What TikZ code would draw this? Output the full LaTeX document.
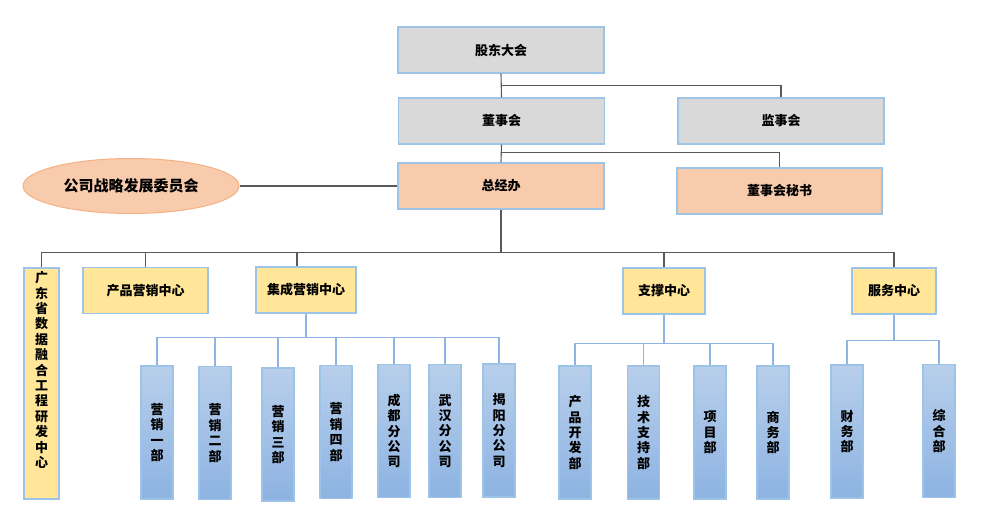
\documentclass[tikz,border=0pt]{standalone}
\usepackage{fontspec}
\usepackage{xcolor}
\usepackage{tikz}
\usetikzlibrary{shapes.geometric}
\newfontfamily\cjk{Noto Sans CJK SC}
\definecolor{grayfill}{HTML}{D9D9D9}
\definecolor{peachfill}{HTML}{F8CBAD}
\definecolor{peachline}{HTML}{F4B183}
\definecolor{yellowfill}{HTML}{FFE699}
\definecolor{boxline}{HTML}{9DC3E6}
\definecolor{bluetop}{HTML}{B8CFEB}
\definecolor{bluebot}{HTML}{8DB3E2}
\definecolor{linkgray}{HTML}{595959}
\definecolor{linkblue}{HTML}{8DB4E2}

\begin{document}
\begin{tikzpicture}[x=1pt,y=-1pt,
  box/.style={draw=boxline,line width=1.3pt,inner sep=0pt,font=\cjk\bfseries\fontsize{13}{15.4}\selectfont},
  graybox/.style={box,fill=grayfill,minimum width=206pt,minimum height=46pt},
  peachbox/.style={box,fill=peachfill,minimum width=206pt,minimum height=46pt},
  centerbox/.style={box,fill=yellowfill,minimum height=46pt},
  deptbox/.style={box,top color=bluetop,bottom color=bluebot,minimum width=32pt,minimum height=133pt,align=center},
  toplink/.style={draw=linkgray,line width=1.1pt},
  sublink/.style={draw=linkblue,line width=1.3pt}]
\useasboundingbox (0,0) rectangle (1000,518);

\node[graybox] (gudong) at (501,50) {股东大会};
\node[graybox] (dongshi) at (501.5,121) {董事会};
\node[graybox] (jianshi) at (781,121) {监事会};
\node[peachbox] (zongjing) at (501,186) {总经办};
\node[peachbox,minimum width=205pt] (mishu) at (779.5,191) {董事会秘书};
\node[ellipse,fill=peachfill,draw=peachline,line width=1pt,minimum width=216pt,minimum height=55pt,inner sep=0pt,
  font=\cjk\bfseries\fontsize{15}{18}\selectfont] (zhanlue) at (131,186) {公司战略发展委员会};

\draw[toplink] (gudong.south) -- (dongshi.north);
\draw[toplink] (dongshi.north) ++(0,-12) -| (jianshi.north);
\draw[toplink] (dongshi.south) -- (zongjing.north);
\draw[toplink] (zongjing.north) ++(0,-10) -| (mishu.north);
\draw[toplink] (zhanlue.east) -- (zongjing.west);

\node[box,fill=yellowfill,minimum width=35pt,minimum height=231pt] (gdbox) at (41.5,383.5) {};
\node[font=\cjk\bfseries\fontsize{13}{15.4}\selectfont,align=center,anchor=north,inner sep=0pt] (gdtext)
  at ([yshift=-4pt]gdbox.north) {广\\东\\省\\数\\据\\融\\合\\工\\程\\研\\发\\中\\心};
\node[centerbox,minimum width=125pt] (chanpin) at (145.5,290.5) {产品营销中心};
\node[centerbox,minimum width=100pt] (jicheng) at (306,290) {集成营销中心};
\node[centerbox,minimum width=82pt] (zhicheng) at (664,291) {支撑中心};
\node[centerbox,minimum width=84pt] (fuwu) at (894,291) {服务中心};

\draw[toplink] (zongjing.south) -- ++(0,43) coordinate (hub);
\draw[toplink] (gdbox.north) |- (hub) -| (fuwu.north);
\draw[toplink] (chanpin.north) -- (chanpin.north |- hub);
\draw[toplink] ([xshift=-9pt]jicheng.north) -- ([xshift=-9pt]jicheng.north |- hub);
\draw[toplink] (zhicheng.north) -- (zhicheng.north |- hub);

\node[deptbox] (yx1) at (157,432.5) {营\\销\\一\\部};
\node[deptbox] (yx2) at (215,433) {营\\销\\二\\部};
\node[deptbox] (yx3) at (278,434.5) {营\\销\\三\\部};
\node[deptbox] (yx4) at (336,432) {营\\销\\四\\部};
\node[deptbox] (chengdu) at (394,431) {成\\都\\分\\公\\司};
\node[deptbox] (wuhan) at (445,431) {武\\汉\\分\\公\\司};
\node[deptbox] (jieyang) at (499,430.5) {揭\\阳\\分\\公\\司};
\node[deptbox] (kaifa) at (575,432.5) {产\\品\\开\\发\\部};
\node[deptbox] (jishu) at (643.5,432.5) {技\\术\\支\\持\\部};
\node[deptbox] (xiangmu) at (710,432.5) {项\\目\\部};
\node[deptbox] (shangwu) at (773,432.5) {商\\务\\部};
\node[deptbox] (caiwu) at (847,431.5) {财\\务\\部};
\node[deptbox] (zonghe) at (939,431) {综\\合\\部};

\draw[sublink] (jicheng.south) -- ++(0,24) coordinate (jb);
\draw[sublink] (yx1.north) |- (jb) -| (jieyang.north);
\foreach \n in {yx2,yx3,yx4,chengdu,wuhan}
  \draw[sublink] (\n.north) -- (\n.north |- jb);

\draw[sublink] (zhicheng.south) -- ++(0,29) coordinate (zb);
\draw[sublink] (kaifa.north) |- (zb) -| (shangwu.north);
\foreach \n in {jishu,xiangmu}
  \draw[sublink] (\n.north) -- (\n.north |- zb);

\draw[sublink] (fuwu.south) -- ++(0,26) coordinate (fb);
\draw[sublink] (caiwu.north) |- (fb) -| (zonghe.north);
\end{tikzpicture}
\end{document}
